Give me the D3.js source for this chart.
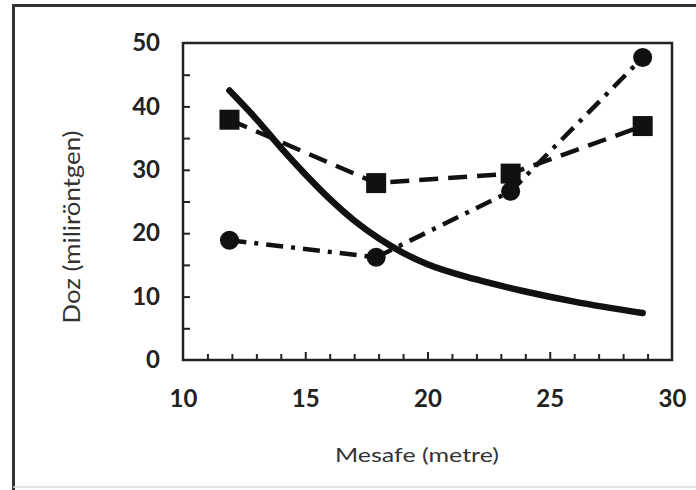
<!DOCTYPE html>
<html>
<head>
<meta charset="utf-8">
<script src="https://cdn.jsdelivr.net/npm/d3@7"></script>
<style>
  html, body { margin: 0; padding: 0; background: #fff; }
  svg { display: block; }
</style>
</head>
<body>
<svg id="chart" width="696" height="490"></svg>
<script>
// ---- data ----
const xTicks = [10, 15, 20, 25, 30];
const yTicks = [0, 10, 20, 30, 40, 50];
const squareX = [11.9, 17.9, 23.4, 28.8];
const squareY = [37.9, 27.9, 29.4, 36.9];
const circleX = [11.9, 17.9, 23.4, 28.8];
const circleY = [18.9, 16.2, 26.6, 47.7];
const curveX = [11.9, 13, 14, 15, 16, 17, 18, 19, 20, 22, 24, 26, 28.8];
const curveY = [42.5, 38, 33.5, 29.3, 25.4, 22.0, 19.2, 16.9, 15.1, 12.7, 10.8, 9.2, 7.4];
const xLabel = "Mesafe (metre)";
const yLabel = "Doz (miliröntgen)";

const svg = d3.select("#chart");
const pLeft = 183, pRight = 672, pTop = 43, pBottom = 360;
const x = d3.scaleLinear().domain([10, 30]).range([pLeft, pRight]);
const y = d3.scaleLinear().domain([0, 50]).range([pBottom, pTop]);
const FONT = "Lato, 'Open Sans', sans-serif";

// outer frame
svg.append("line").attr("x1", 13).attr("x2", 696).attr("y1", 5.5).attr("y2", 5.5)
  .attr("stroke", "#333").attr("stroke-width", 3);
svg.append("line").attr("x1", 13.5).attr("x2", 13.5).attr("y1", 4).attr("y2", 490)
  .attr("stroke", "#333").attr("stroke-width", 3);
svg.append("line").attr("x1", 13).attr("x2", 696).attr("y1", 487).attr("y2", 487)
  .attr("stroke", "#ddd").attr("stroke-width", 1.5);

// plot frame
svg.append("rect").attr("x", pLeft).attr("y", pTop)
  .attr("width", pRight - pLeft).attr("height", pBottom - pTop)
  .attr("fill", "none").attr("stroke", "#222").attr("stroke-width", 2.5);

// x axis ticks (inward)
const xMinor = d3.range(11, 30, 1);
const gx = svg.append("g").attr("transform", `translate(0,${pBottom})`)
  .call(d3.axisBottom(x).tickValues(xMinor).tickSize(-6).tickFormat(""));
gx.select(".domain").remove();
gx.selectAll("line").attr("stroke", "#222").attr("stroke-width", 2)
  .attr("y2", d => (d % 5 === 0 ? -8 : -6));

const gxl = svg.append("g").attr("transform", `translate(0,${pBottom})`)
  .call(d3.axisBottom(x).tickValues(xTicks).tickSize(0).tickPadding(30).tickFormat(d3.format("d")));
gxl.select(".domain").remove();
gxl.selectAll("text").attr("font-family", FONT)
  .attr("font-weight", 700).attr("font-size", 24).attr("fill", "#222");

// y axis ticks (inward)
const yMinor = d3.range(5, 50, 5);
const gy = svg.append("g").attr("transform", `translate(${pLeft},0)`)
  .call(d3.axisLeft(y).tickValues(yMinor).tickSize(-7).tickFormat(""));
gy.select(".domain").remove();
gy.selectAll("line").attr("stroke", "#222").attr("stroke-width", 2);

const gyl = svg.append("g").attr("transform", `translate(${pLeft},0)`)
  .call(d3.axisLeft(y).tickValues(yTicks).tickSize(0).tickPadding(23).tickFormat(d3.format("d")));
gyl.select(".domain").remove();
gyl.selectAll("text").attr("font-family", FONT)
  .attr("font-weight", 700).attr("font-size", 24).attr("fill", "#222");

// axis titles
svg.append("text").attr("x", 417).attr("y", 462).attr("text-anchor", "middle")
  .attr("font-family", FONT).attr("font-size", 20).attr("fill", "#333")
  .attr("textLength", 164).attr("lengthAdjust", "spacingAndGlyphs")
  .text(xLabel);
svg.append("text").attr("transform", "translate(80,227) rotate(-90)").attr("text-anchor", "middle")
  .attr("font-family", FONT).attr("font-size", 24).attr("fill", "#333")
  .attr("textLength", 193).attr("lengthAdjust", "spacingAndGlyphs")
  .text(yLabel);

const line = d3.line().x(d => x(d[0])).y(d => y(d[1]));

// circle series (dash-dot)
const circleData = circleX.map((v, i) => [v, circleY[i]]);
svg.append("path").datum(circleData).attr("d", line)
  .attr("fill", "none").attr("stroke", "#111").attr("stroke-width", 4.5)
  .attr("stroke-dasharray", "17,8,4,8");

// square series (dashed)
const squareData = squareX.map((v, i) => [v, squareY[i]]);
svg.append("path").datum(squareData).attr("d", line)
  .attr("fill", "none").attr("stroke", "#111").attr("stroke-width", 4.5)
  .attr("stroke-dasharray", "19,10");

// solid curve
const curveData = curveX.map((v, i) => [v, curveY[i]]);
svg.append("path").datum(curveData).attr("d", d3.line().x(d => x(d[0])).y(d => y(d[1])).curve(d3.curveMonotoneX))
  .attr("fill", "none").attr("stroke", "#111").attr("stroke-width", 6.5)
  .attr("stroke-linecap", "round");

// markers
svg.selectAll(".sq").data(squareData).enter().append("rect")
  .attr("x", d => x(d[0]) - 10).attr("y", d => y(d[1]) - 10)
  .attr("width", 20).attr("height", 20).attr("fill", "#111");
svg.selectAll(".ci").data(circleData).enter().append("circle")
  .attr("cx", d => x(d[0])).attr("cy", d => y(d[1])).attr("r", 9.5).attr("fill", "#111");
</script>
</body>
</html>
